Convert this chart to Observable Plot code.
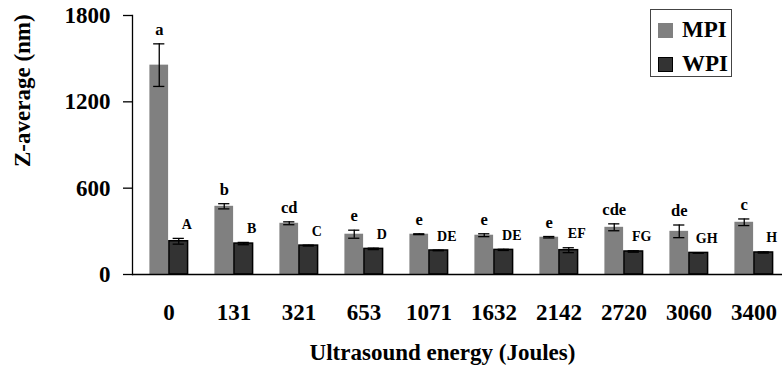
<!DOCTYPE html>
<html>
<head>
<meta charset="utf-8">
<script src="https://cdn.jsdelivr.net/npm/d3@7"></script>
<script src="https://cdn.jsdelivr.net/npm/@observablehq/plot@0.6"></script>
<style>
  html, body { margin: 0; padding: 0; background: white; overflow: hidden; }
  #wrap { position: relative; width: 782px; height: 378px; overflow: hidden; }
  #legend { position: absolute; left: 650px; top: 9px; width: 82px; height: 68px;
    border: 1.5px solid #444; background: white; box-sizing: border-box;
    font-family: "Liberation Serif", "DejaVu Serif", serif; font-weight: bold; font-size: 23px; color: #000; }
  .item { position: absolute; left: 7px; height: 18px; display: flex; align-items: center; }
  .sw { width: 15px; height: 15px; box-sizing: border-box; margin-right: 9px; }
</style>
</head>
<body>
<div id="wrap">
  <div id="chart"></div>
  <div id="legend">
    <div class="item" style="top:11px"><div class="sw" style="background:#808080"></div><span>MPI</span></div>
    <div class="item" style="top:45px"><div class="sw" style="background:#333333;border:1.5px solid #000"></div><span>WPI</span></div>
  </div>
</div>
<script>
const energies = ["0","131","321","653","1071","1632","2142","2720","3060","3400"];
const mpi      = [1455, 474, 356, 280, 280, 273, 259, 328, 300, 363];
const mpiErr   = [148, 18, 10, 28, 3, 10, 5, 24, 44, 23];
const wpi      = [231, 215, 201, 178, 167, 171, 169, 160, 150, 153];
const wpiErr   = [20, 8, 3, 5, 2, 4, 17, 5, 2, 4];
const mpiLetters = ["a","b","cd","e","e","e","e","cde","de","c"];
const wpiLetters = ["A","B","C","D","DE","DE","EF","FG","GH","H"];
const yTicks = [0, 600, 1200, 1800];

const rows = energies.map((e, i) => ({
  energy: e, mpi: mpi[i], mpiErr: mpiErr[i], wpi: wpi[i], wpiErr: wpiErr[i],
  mpiL: mpiLetters[i], wpiL: wpiLetters[i]
}));

const width = 782, height = 378;
const mL = 132, mR = -8;
const step = (width - mL - mR) / energies.length;
const barW = 19.5;
const half = step / 2;
const capW = 12;
const offM = -barW / 2, offW = barW / 2;
const capInset = (off) => [half + off - capW / 2, step - (half + off + capW / 2)];
const [cmL, cmR] = capInset(offM);
const [cwL, cwR] = capInset(offW);
const font = '"Liberation Serif", "DejaVu Serif", serif';

const chart = Plot.plot({
  width, height,
  marginLeft: mL, marginRight: mR, marginTop: 15, marginBottom: 104,
  style: { fontFamily: font, fontWeight: "bold", fontSize: "23px", color: "#000", background: "white", overflow: "hidden" },
  x: { domain: energies, padding: 0, label: null },
  y: { domain: [0, 1800], label: null },
  marks: [
    Plot.barY(rows, { x: "energy", y: "mpi", fill: "#808080", insetLeft: half - barW, insetRight: half }),
    Plot.barY(rows, { x: "energy", y: "wpi", fill: "#333333", stroke: "#000", strokeWidth: 1.5, insetLeft: half, insetRight: half - barW }),
    Plot.ruleX(rows, { x: "energy", y1: d => d.mpi - d.mpiErr, y2: d => d.mpi + d.mpiErr, dx: offM, stroke: "#000", strokeWidth: 1.3 }),
    Plot.tickY(rows, { x: "energy", y: d => d.mpi + d.mpiErr, insetLeft: cmL, insetRight: cmR, stroke: "#000", strokeWidth: 1.3 }),
    Plot.tickY(rows, { x: "energy", y: d => d.mpi - d.mpiErr, insetLeft: cmL, insetRight: cmR, stroke: "#000", strokeWidth: 1.3 }),
    Plot.ruleX(rows, { x: "energy", y1: d => d.wpi - d.wpiErr, y2: d => d.wpi + d.wpiErr, dx: offW, stroke: "#000", strokeWidth: 1.3 }),
    Plot.tickY(rows, { x: "energy", y: d => d.wpi + d.wpiErr, insetLeft: cwL, insetRight: cwR, stroke: "#000", strokeWidth: 1.3 }),
    Plot.tickY(rows, { x: "energy", y: d => d.wpi - d.wpiErr, insetLeft: cwL, insetRight: cwR, stroke: "#000", strokeWidth: 1.3 }),
    Plot.text(rows, { x: "energy", y: d => d.mpi + d.mpiErr, text: "mpiL", dx: offM, dy: -14, fontSize: 16.5, fontWeight: "bold", fill: "#000" }),
    Plot.text(rows, { x: "energy", y: d => d.wpi + d.wpiErr, text: "wpiL", dx: offW + 8, dy: -14, fontSize: 14, fontWeight: "bold", fill: "#000" }),
    Plot.axisY({ ticks: yTicks, tickFormat: d => String(d), tickSize: 9, tickPadding: 13, label: null, stroke: "#000", strokeWidth: 1.3 }),
    Plot.axisX({ tickSize: 0, tickPadding: 29, label: null }),
    Plot.frame({ anchor: "left", stroke: "#000", strokeWidth: 1.3 }),
    Plot.ruleY([0], { stroke: "#000", strokeWidth: 1.5 }),
    Plot.text(["Z-average (nm)"], { frameAnchor: "left", rotate: -90, dx: -110, dy: 22, fontSize: 23, fontWeight: "bold", fill: "#000" }),
    Plot.text(["Ultrasound energy (Joules)"], { frameAnchor: "bottom", dx: -19, dy: 85, fontSize: 23, fontWeight: "bold", fill: "#000" })
  ]
});
document.getElementById("chart").appendChild(chart);
</script>
</body>
</html>
